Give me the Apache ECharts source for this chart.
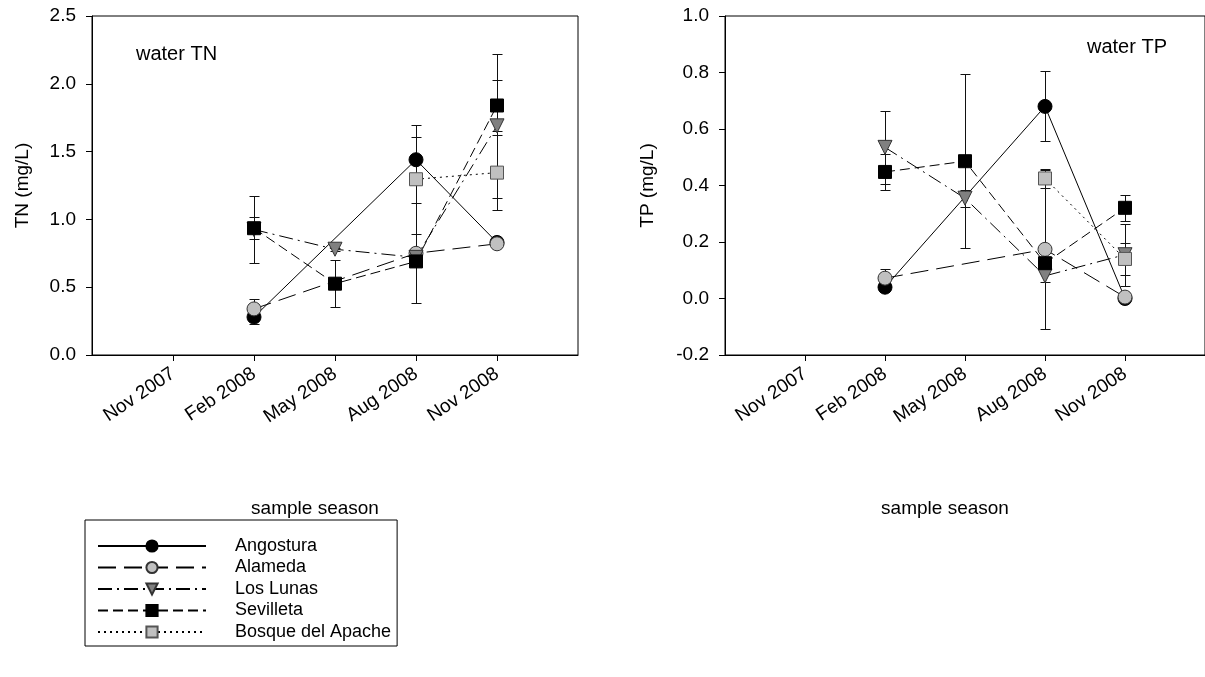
<!DOCTYPE html>
<html>
<head>
<meta charset="utf-8">
<script src="https://cdn.jsdelivr.net/npm/echarts@6/dist/echarts.min.js"></script>
<style>
  html, body { margin: 0; padding: 0; background: #fff; }
  #chart { width: 1205px; height: 677px; }
</style>
</head>
<body>
<div id="chart"></div>
<script>
// Quarterly axis positions (first and last are padding on either side)
const axisMonths = ['Aug 2007', 'Nov 2007', 'Feb 2008', 'May 2008', 'Aug 2008', 'Nov 2008', 'Feb 2009'];
const shownMonths = ['Nov 2007', 'Feb 2008', 'May 2008', 'Aug 2008', 'Nov 2008'];
const seasons = ['Feb 2008', 'May 2008', 'Aug 2008', 'Nov 2008'];
const stations = ['Angostura', 'Alameda', 'Los Lunas', 'Sevilleta', 'Bosque del Apache'];

// Water total nitrogen (mg/L), mean and error per season
const tnAngostura = [0.28, null, 1.44, 0.83];
const tnAngosturaErr = [0.05, null, 0.17, 0.02];
const tnAlameda = [0.34, null, 0.75, 0.82];
const tnAlamedaErr = [0.075, null, 0.37, 0.02];
const tnLosLunas = [0.925, 0.78, 0.72, 1.69];
const tnLosLunasErr = [0.245, 0.01, 0.03, 0.53];
const tnSevilleta = [0.935, 0.526, 0.69, 1.84];
const tnSevilletaErr = [0.08, 0.173, 0.03, 0.19];
const tnBosque = [null, null, 1.296, 1.345];
const tnBosqueErr = [null, null, 0.40, 0.275];

// Water total phosphorus (mg/L), mean and error per season
const tpAngostura = [0.04, null, 0.68, 0.0];
const tpAngosturaErr = [0.01, null, 0.124, 0.01];
const tpAlameda = [0.072, null, 0.174, 0.005];
const tpAlamedaErr = [0.033, null, 0.282, 0.01];
const tpLosLunas = [0.535, 0.355, 0.08, 0.155];
const tpLosLunasErr = [0.13, 0.03, 0.02, 0.11];
const tpSevilleta = [0.448, 0.486, 0.125, 0.321];
const tpSevilletaErr = [0.065, 0.307, 0.02, 0.045];
const tpBosque = [null, null, 0.425, 0.14];
const tpBosqueErr = [null, null, 0.033, 0.058];

const tnTicks = [0, 0.5, 1.0, 1.5, 2.0, 2.5];
const tpTicks = [-0.2, 0, 0.2, 0.4, 0.6, 0.8, 1.0];

const FONT = "'Liberation Sans', Arial, sans-serif";
const FS = 19;

// Per-station drawing style
const styles = {
  'Angostura':         { symbol: 'circle', size: 14, fill: '#000000', border: '#000000', dash: 'solid', rot: 0 },
  'Alameda':           { symbol: 'circle', size: 14, fill: '#c0c0c0', border: '#333333', dash: [18, 8], rot: 0 },
  'Los Lunas':         { symbol: 'triangle', size: 14, fill: '#808080', border: '#333333', dash: [14, 5, 2, 5], rot: 180 },
  'Sevilleta':         { symbol: 'rect', size: 13, fill: '#000000', border: '#000000', dash: [10, 5], rot: 0 },
  'Bosque del Apache': { symbol: 'rect', size: 13, fill: '#c0c0c0', border: '#555555', dash: [2, 4], rot: 0 }
};

const tnData = {
  'Angostura': [tnAngostura, tnAngosturaErr],
  'Alameda': [tnAlameda, tnAlamedaErr],
  'Los Lunas': [tnLosLunas, tnLosLunasErr],
  'Sevilleta': [tnSevilleta, tnSevilletaErr],
  'Bosque del Apache': [tnBosque, tnBosqueErr]
};
const tpData = {
  'Angostura': [tpAngostura, tpAngosturaErr],
  'Alameda': [tpAlameda, tpAlamedaErr],
  'Los Lunas': [tpLosLunas, tpLosLunasErr],
  'Sevilleta': [tpSevilleta, tpSevilletaErr],
  'Bosque del Apache': [tpBosque, tpBosqueErr]
};

function errorBars(name, vals, errs, idx) {
  const data = [];
  seasons.forEach((s, i) => {
    if (vals[i] != null && errs[i] != null) data.push([s, vals[i] - errs[i], vals[i] + errs[i]]);
  });
  return {
    type: 'custom',
    name: name + ' error',
    xAxisIndex: idx, yAxisIndex: idx,
    silent: true,
    z: 1,
    clip: true,
    data: data,
    renderItem: function (params, api) {
      const x = api.value(0);
      const lo = api.coord([x, api.value(1)]);
      const hi = api.coord([x, api.value(2)]);
      const cx = Math.round(lo[0]) + 0.5;
      const yl = Math.round(lo[1]) + 0.5;
      const yh = Math.round(hi[1]) + 0.5;
      const w = 5;
      const st = { stroke: '#111', lineWidth: 1 };
      return {
        type: 'group',
        children: [
          { type: 'line', shape: { x1: cx, y1: yl, x2: cx, y2: yh }, style: st },
          { type: 'line', shape: { x1: cx - w, y1: yh, x2: cx + w, y2: yh }, style: st },
          { type: 'line', shape: { x1: cx - w, y1: yl, x2: cx + w, y2: yl }, style: st }
        ]
      };
    }
  };
}

function lineSeries(name, vals, idx) {
  const s = styles[name];
  const data = [];
  seasons.forEach((m, i) => { if (vals[i] != null) data.push([m, vals[i]]); });
  return {
    type: 'line',
    name: name,
    xAxisIndex: idx, yAxisIndex: idx,
    z: 2,
    data: data,
    symbol: s.symbol,
    symbolSize: s.size,
    symbolRotate: s.rot,
    showAllSymbol: true,
    lineStyle: { color: '#000', width: 1, type: s.dash },
    itemStyle: { color: s.fill, borderColor: s.border, borderWidth: 1, opacity: 1 },
    emphasis: { disabled: true }
  };
}

const series = [];
[tnData, tpData].forEach((set, idx) => {
  stations.forEach(n => series.push(errorBars(n, set[n][0], set[n][1], idx)));
  stations.forEach(n => series.push(lineSeries(n, set[n][0], idx)));
});

function xAxis(idx) {
  const show = (i) => shownMonths.indexOf(axisMonths[i]) >= 0;
  return {
    type: 'category',
    gridIndex: idx,
    data: axisMonths,
    boundaryGap: false,
    axisLine: { onZero: false, lineStyle: { color: '#000', width: 1 } },
    axisTick: { show: true, length: 6, interval: (i) => show(i), lineStyle: { color: '#000' } },
    axisLabel: {
      interval: (i) => show(i),
      rotate: 34, margin: 17,
      color: '#000', fontFamily: FONT, fontSize: FS
    },
    splitLine: { show: false },
    name: 'sample season',
    nameLocation: 'middle',
    nameGap: 144,
    nameTextStyle: { color: '#000', fontFamily: FONT, fontSize: FS, padding: [0, 40, 0, 0] }
  };
}

function yAxis(idx, ticks, label, gap) {
  return {
    type: 'value',
    gridIndex: idx,
    min: ticks[0], max: ticks[ticks.length - 1],
    interval: +(ticks[1] - ticks[0]).toFixed(2),
    axisLine: { show: true, onZero: false, lineStyle: { color: '#000', width: 1 } },
    axisTick: { show: true, length: 6, lineStyle: { color: '#000' } },
    axisLabel: {
      color: '#000', fontFamily: FONT, fontSize: FS, margin: 16,
      formatter: (v) => v.toFixed(1)
    },
    splitLine: { show: false },
    name: label,
    nameLocation: 'middle',
    nameGap: gap,
    nameRotate: 90,
    nameTextStyle: { color: '#000', fontFamily: FONT, fontSize: FS }
  };
}

const chart = echarts.init(document.getElementById('chart'), null, { renderer: 'canvas' });
chart.setOption({
  animation: false,
  backgroundColor: '#fff',
  textStyle: { fontFamily: FONT },
  title: [
    { text: 'water TN', left: 136, top: 44, textStyle: { fontFamily: FONT, fontSize: 20, fontWeight: 'normal', color: '#000' }, padding: 0 },
    { text: 'water TP', left: 1087, top: 37, textStyle: { fontFamily: FONT, fontSize: 20, fontWeight: 'normal', color: '#000' }, padding: 0 }
  ],
  grid: [
    { left: 92, top: 16, width: 486, height: 339, show: true, borderColor: '#000', borderWidth: 1, backgroundColor: 'transparent' },
    { left: 725, top: 16, width: 485, height: 339, show: true, borderColor: '#000', borderWidth: 1, backgroundColor: 'transparent' }
  ],
  xAxis: [xAxis(0), xAxis(1)],
  yAxis: [yAxis(0, tnTicks, 'TN (mg/L)', 60), yAxis(1, tpTicks, 'TP (mg/L)', 68)],
  legend: {
    data: stations,
    orient: 'vertical',
    left: 85, top: 520,
    selectedMode: false,
    borderColor: '#000', borderWidth: 1,
    padding: [17, 6, 5, 12],
    itemWidth: 108, itemHeight: 14, itemGap: 3.5,
    textStyle: { color: '#000', fontFamily: FONT, fontSize: 18, padding: [0, 0, 0, 24] }
  },
  series: series
});
</script>
</body>
</html>
